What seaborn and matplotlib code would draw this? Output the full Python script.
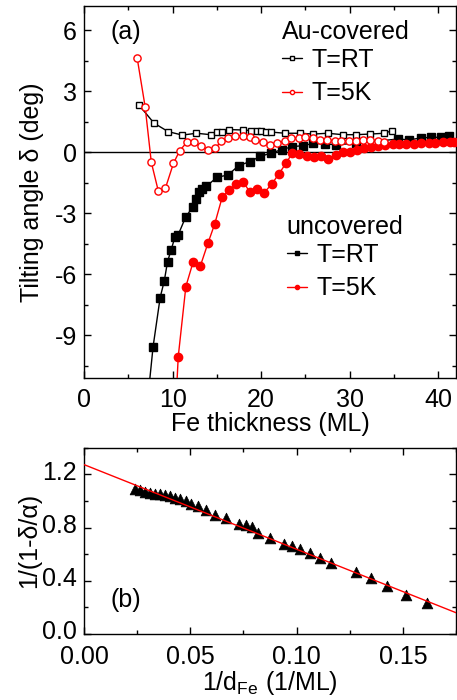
import matplotlib
matplotlib.use("Agg")
import matplotlib.pyplot as plt
import matplotlib.transforms as mtransforms
from matplotlib.lines import Line2D
from matplotlib.ticker import MultipleLocator, FormatStrFormatter
import numpy as np
import pandas as pd
import seaborn as sns

# ---- panel (a): tilting angle vs Fe thickness ----
au_rt_d = [6.2, 7.9, 9.5, 11.1, 12.7, 14.3, 15.0, 15.6, 16.4, 18.0, 18.8, 19.5, 20.0, 20.6, 21.1,
           22.7, 24.4, 25.9, 27.5, 29.2, 30.7, 32.3, 33.9, 34.8]
au_rt_v = [2.33, 1.44, 1.02, 0.85, 0.94, 0.87, 1.02, 1.02, 1.12, 1.10, 1.07, 1.07, 1.05, 1.02, 1.00,
           0.94, 0.94, 0.90, 0.94, 0.87, 0.87, 0.90, 0.94, 1.07]

au_5k_d = [6.0, 6.9, 7.6, 8.4, 9.2, 10.1, 10.8, 11.6, 12.4, 13.2, 14.0, 14.8, 15.5, 16.3, 17.1,
           18.0, 18.7, 19.3, 20.2, 21.0, 21.8, 22.7, 23.4, 24.3, 25.0, 25.8, 26.7, 27.4, 28.3,
           29.0, 29.9, 30.7, 31.5, 32.3, 33.2, 33.9]
au_5k_v = [4.65, 2.25, -0.49, -1.92, -1.75, -0.54, 0.08, 0.49, 0.49, 0.30, 0.13, 0.20, 0.54, 0.71, 0.82,
           0.82, 0.74, 0.62, 0.49, 0.38, 0.44, 0.58, 0.69, 0.71, 0.77, 0.71, 0.61, 0.61, 0.58,
           0.58, 0.54, 0.58, 0.61, 0.61, 0.58, 0.49]

un_rt_d = [7.0, 7.8, 8.6, 9.07, 9.43, 9.84, 10.26, 10.64, 11.46, 12.25, 12.63, 13.0, 13.37, 13.82,
           15.0, 16.27, 17.47, 18.7, 19.9, 21.15, 22.3, 23.5, 24.7, 25.9, 27.2, 28.4, 30.7,
           35.5, 36.7, 38.0, 39.2, 40.3, 41.2]
un_rt_v = [-13.0, -9.56, -7.14, -6.31, -5.38, -4.79, -4.18, -4.05, -3.20, -2.70, -2.29, -1.97, -1.80, -1.67,
           -1.23, -1.11, -0.65, -0.46, -0.20, -0.03, 0.13, 0.28, 0.33, 0.44, 0.41, 0.38, 0.44,
           0.66, 0.61, 0.71, 0.74, 0.74, 0.82]

un_5k_d = [10.3, 10.64, 11.5, 12.33, 13.15, 14.0, 14.76, 15.6, 16.38, 17.2, 17.96, 18.75, 19.55, 20.3,
           21.2, 22.0, 22.8, 23.5, 24.3, 25.2, 26.0, 26.8, 27.6, 28.4, 29.2, 30.0, 30.8, 31.6,
           32.4, 33.2, 34.0, 34.9, 35.6, 36.4, 37.3, 38.1, 38.9, 39.6, 40.5, 41.3, 41.8]
un_5k_v = [-13.0, -10.05, -6.60, -5.38, -5.57, -4.46, -3.52, -2.21, -1.85, -1.56, -1.44, -1.97, -1.78, -2.00,
           -1.56, -1.06, -0.54, -0.05, -0.08, -0.16, -0.21, -0.18, -0.33, -0.11, 0.00, 0.03, 0.12, 0.20,
           0.28, 0.33, 0.38, 0.41, 0.41, 0.41, 0.41, 0.44, 0.44, 0.46, 0.49, 0.52, 0.52]

# ---- panel (b): 1/(1-delta/alpha) vs 1/d ----
inv_d = [0.0239, 0.0262, 0.0286, 0.0309, 0.0333, 0.0356, 0.0380, 0.0403, 0.0427, 0.0450, 0.0478,
         0.0505, 0.0536, 0.0575, 0.0614, 0.0669, 0.0731, 0.0763, 0.0790, 0.0817, 0.0875, 0.0939,
         0.0978, 0.1017, 0.1063, 0.1109, 0.1161, 0.1281, 0.1350, 0.1427, 0.1513, 0.1614]
inv_ratio = [1.093, 1.080, 1.068, 1.060, 1.055, 1.050, 1.043, 1.035, 1.025, 1.013, 0.998,
             0.980, 0.960, 0.935, 0.893, 0.868, 0.830, 0.822, 0.805, 0.760, 0.718, 0.673,
             0.665, 0.638, 0.610, 0.568, 0.535, 0.468, 0.418, 0.363, 0.293, 0.230]
fit_intercept = 1.273
fit_slope = -6.36

sns.set_theme(style="ticks")
plt.rcParams["font.family"] = ["Liberation Sans", "DejaVu Sans"]
plt.rcParams["axes.unicode_minus"] = False
plt.rcParams["mathtext.fontset"] = "custom"
plt.rcParams["mathtext.rm"] = "Liberation Sans"
for key in ("text.color", "axes.labelcolor", "xtick.color", "ytick.color", "axes.edgecolor"):
    plt.rcParams[key] = "black"
FS = 18

fig = plt.figure(figsize=(4.57, 7.0), dpi=100)
ax1 = fig.add_axes([84 / 457, 1 - 378 / 700, 372 / 457, 372 / 700])
ax2 = fig.add_axes([84 / 457, 1 - 634 / 700, 372 / 457, 186.3 / 700])

ax1.axhline(0, color="black", lw=1, zorder=1)

def draw(ax, d, v, color, marker, filled, ms):
    df = pd.DataFrame({"d": d, "v": v})
    sns.lineplot(data=df, x="d", y="v", ax=ax, sort=False, estimator=None, color=color,
                 lw=1, marker=marker, markersize=ms,
                 markerfacecolor=color if filled else "white",
                 markeredgecolor=color, markeredgewidth=1, zorder=3)

draw(ax1, un_rt_d, un_rt_v, "black", "s", True, 5.2)
draw(ax1, un_5k_d, un_5k_v, "red", "o", True, 6.0)
draw(ax1, au_rt_d, au_rt_v, "black", "s", False, 4.6)
draw(ax1, au_5k_d, au_5k_v, "red", "o", False, 5.2)

ax1.set_xlim(0, 42)
ax1.set_ylim(-11.1, 7.2)
ax1.xaxis.set_major_locator(MultipleLocator(10))
ax1.xaxis.set_minor_locator(MultipleLocator(5))
ax1.yaxis.set_major_locator(MultipleLocator(3))
ax1.yaxis.set_minor_locator(MultipleLocator(1.5))
ax1.set_xlabel("Fe thickness (ML)", fontsize=FS, labelpad=0)
ax1.set_ylabel("Tilting angle \u03b4 (deg)", fontsize=FS)
ax1.yaxis.set_label_coords(-0.108, 0.5)
ax1.text(0.07, 0.93, "(a)", transform=ax1.transAxes, fontsize=FS, va="center", ha="left")

def handles(open_):
    return [Line2D([], [], color="black", lw=1, marker="s", markersize=3,
                   markerfacecolor="white" if open_ else "black", markeredgecolor="black"),
            Line2D([], [], color="red", lw=1, marker="o", markersize=3,
                   markerfacecolor="white" if open_ else "red", markeredgecolor="red")]

leg_kw = dict(loc="upper left", frameon=False, fontsize=FS, handlelength=0.8,
              handletextpad=0.4, borderpad=0, borderaxespad=0, labelspacing=0.37)

# Au-covered group
ax1.text(0.531, (378 - 32) / 372, "Au-covered", transform=ax1.transAxes, fontsize=FS,
         va="center", ha="left")
leg1 = ax1.legend(handles(True), ["T=RT", "T=5K"], bbox_to_anchor=(0.531, (378 - 48) / 372),
                  **leg_kw)
ax1.add_artist(leg1)

# uncovered group
ax1.text(0.545, (378 - 226.7) / 372, "uncovered", transform=ax1.transAxes, fontsize=FS,
         va="center", ha="left")
ax1.legend(handles(False), ["T=RT", "T=5K"], bbox_to_anchor=(0.545, (378 - 243) / 372),
           **leg_kw)

# panel (b)
df_b = pd.DataFrame({"x": inv_d, "y": inv_ratio})
sns.scatterplot(data=df_b, x="x", y="y", ax=ax2, marker="^", s=60, color="black",
                edgecolor="black", linewidth=0.5, zorder=3)
xfit = np.linspace(0, 0.175, 50)
ax2.plot(xfit, fit_intercept + fit_slope * xfit, color="red", lw=1, zorder=4)
ax2.set_xlim(0, 0.175)
ax2.set_ylim(0, 1.4)
ax2.xaxis.set_major_locator(MultipleLocator(0.05))
ax2.xaxis.set_minor_locator(MultipleLocator(0.025))
ax2.yaxis.set_major_locator(MultipleLocator(0.4))
ax2.yaxis.set_minor_locator(MultipleLocator(0.2))
ax2.xaxis.set_major_formatter(FormatStrFormatter("%.2f"))
ax2.yaxis.set_major_formatter(FormatStrFormatter("%.1f"))
ax2.set_xlabel(r"1/d$_{\mathregular{Fe}}$ (1/ML)", fontsize=FS, labelpad=0)
ax2.set_ylabel("1/(1-\u03b4/\u03b1)", fontsize=FS)
ax2.yaxis.set_label_coords(-0.116, 0.5)
ax2.text(0.07, 0.18, "(b)", transform=ax2.transAxes, fontsize=FS, va="center", ha="left")

for ax in (ax1, ax2):
    ax.tick_params(which="both", direction="in", top=True, right=True, labelsize=FS,
                   width=1, color="black", labelcolor="black")
    ax.tick_params(axis="x", which="both", pad=7)
    ax.tick_params(axis="y", which="both", pad=5)
    ax.tick_params(which="major", length=5)
    ax.tick_params(which="minor", length=3)
    for s in ax.spines.values():
        s.set_linewidth(1)
        s.set_color("black")
ax2.tick_params(axis="x", which="both", pad=8)

# lift the y tick labels of panel (b) a little so "0.0" clears "0.00"
fig.canvas.draw()
lift = mtransforms.ScaledTranslation(0, 3 / 72, fig.dpi_scale_trans)
for lbl in ax2.get_yticklabels():
    lbl.set_transform(lbl.get_transform() + lift)

fig.savefig("out.png", dpi=100)
